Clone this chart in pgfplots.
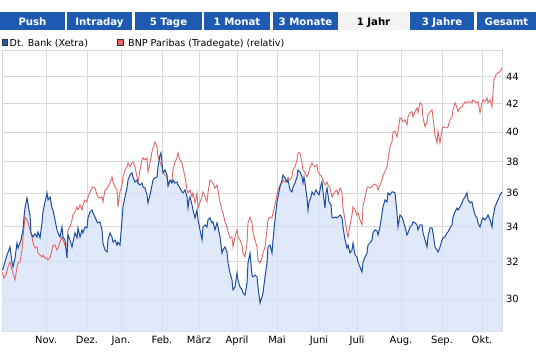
\documentclass[border=0pt]{standalone}
\usepackage{fontspec}
\setmainfont{DejaVu Sans}
\usepackage{pgfplots}
\usepackage{pgfplotstable}
\pgfplotsset{compat=1.18}
\definecolor{tabblue}{RGB}{30,90,178}
\definecolor{tabsel}{RGB}{244,244,244}
\definecolor{gridgray}{RGB}{216,216,216}
\definecolor{dbblue}{RGB}{30,78,158}
\definecolor{bnpred}{RGB}{224,104,104}
\definecolor{fillblue}{RGB}{216,228,248}
\definecolor{sqblue}{RGB}{40,85,165}
\definecolor{sqred}{RGB}{240,100,100}

\pgfplotstableread{
x y
2 31.55
3 31.60
7 32.37
10 32.82
12 31.98
13 31.71
15 32.20
17 33.05
18 32.76
21 33.22
23 33.80
24 34.56
25 35.10
27 35.71
29 34.98
30 34.68
31 33.63
33 33.39
35 33.57
37 33.39
38 33.68
40 33.34
42 34.21
43 34.86
45 35.47
47 36.03
48 35.59
50 35.78
52 35.10
53 34.98
55 34.39
57 33.80
58 33.63
60 33.39
62 33.97
63 33.39
65 33.22
67 32.20
68 33.51
70 33.22
72 32.82
73 33.10
75 33.63
77 33.34
78 33.92
80 33.39
82 33.80
83 33.63
85 33.97
87 33.92
88 34.51
90 34.86
92 34.98
93 34.80
95 34.56
97 34.27
98 34.21
100 34.27
102 33.80
103 33.05
105 32.65
107 32.54
108 33.22
110 33.63
112 33.39
113 33.10
115 33.22
117 32.93
118 33.10
120 32.93
122 34.39
123 35.17
125 35.78
127 36.33
128 36.84
130 37.16
132 37.29
133 37.03
135 36.71
137 36.84
138 36.65
140 36.52
142 36.65
143 36.40
145 36.33
147 35.90
148 35.41
150 35.90
152 36.52
153 36.84
155 36.97
157 37.03
158 37.68
160 38.46
161 38.60
162 37.94
163 37.29
165 37.48
167 37.16
168 36.52
170 36.84
172 36.65
173 36.84
175 36.65
177 36.71
178 36.52
180 36.33
182 36.09
183 36.03
185 36.21
187 35.78
188 35.10
189 35.59
190 35.78
192 35.29
193 34.98
195 34.51
197 34.98
198 34.39
200 33.80
202 33.22
203 33.97
205 34.09
207 33.97
208 34.39
210 34.51
212 34.21
213 34.27
215 33.80
217 34.21
218 33.97
220 33.39
222 32.48
223 32.65
225 32.82
227 32.54
228 31.93
230 31.38
232 31.01
233 30.48
235 30.64
237 31.38
238 31.01
240 30.64
242 30.48
243 30.32
245 30.21
247 30.85
248 31.93
250 32.48
252 31.27
253 31.17
255 31.27
257 31.17
258 30.64
260 29.80
262 30.11
263 30.32
265 31.17
267 31.93
268 32.82
270 32.93
272 32.48
273 33.22
275 34.39
277 35.47
278 35.78
280 36.40
282 36.84
283 37.16
285 36.97
287 36.71
288 36.84
290 36.21
292 36.09
293 36.40
295 36.65
297 37.03
298 37.48
300 37.35
302 37.03
303 36.65
304 37.03
305 36.65
307 35.71
308 34.98
309 35.47
311 35.78
312 36.09
314 35.90
316 36.21
317 36.09
319 35.90
321 36.52
322 36.71
323 36.09
325 35.10
326 36.03
327 36.33
329 35.47
331 35.29
332 34.51
333 34.51
335 34.56
337 34.51
338 34.56
340 34.68
342 34.51
343 33.97
345 33.22
347 32.76
348 32.93
350 32.48
352 32.65
353 33.05
355 32.37
357 32.26
358 31.98
360 31.71
362 31.44
363 31.98
365 32.26
367 32.48
368 32.93
370 33.05
372 33.22
373 33.63
375 33.80
377 33.74
378 33.51
380 33.97
382 34.80
383 35.17
385 35.59
387 35.47
388 36.03
390 35.90
392 36.09
393 36.09
395 36.03
397 34.80
398 33.97
400 34.68
402 34.56
403 34.39
405 33.97
407 33.51
408 33.63
410 33.97
412 34.09
413 34.27
415 34.21
417 34.09
418 33.80
420 34.09
422 34.09
423 33.63
425 33.22
427 32.82
428 33.39
430 33.92
432 33.92
433 33.63
435 32.82
437 32.65
438 32.54
440 32.82
442 33.22
443 33.34
445 33.39
447 33.63
448 33.68
450 33.92
452 34.09
453 34.56
455 34.86
457 35.10
458 34.98
460 35.17
462 35.41
463 35.59
465 35.78
467 36.03
468 35.59
470 35.41
472 35.47
473 35.17
475 34.68
477 34.51
478 34.21
480 33.97
482 34.39
483 34.51
485 34.39
487 34.56
488 34.68
490 34.39
492 33.97
493 34.56
495 35.17
497 35.47
498 35.59
500 35.90
502 36.09
}\dbtable

\pgfplotstableread{
x y
2 31.44
4 31.11
6 31.27
8 31.71
10 31.98
12 31.55
13 31.38
15 31.01
17 31.71
18 31.93
20 31.98
22 32.65
23 33.39
25 34.56
27 34.39
28 34.21
30 33.80
32 33.39
33 33.05
35 32.76
37 32.82
38 32.48
40 32.37
42 32.26
43 32.37
45 32.20
47 32.20
48 32.09
50 32.20
52 32.65
53 32.93
55 32.93
57 32.65
58 32.76
60 33.10
62 33.39
63 33.22
65 32.93
67 32.93
68 33.80
70 33.97
72 34.39
73 34.68
75 34.86
77 35.17
78 34.98
80 35.29
82 34.98
83 35.29
85 35.59
87 35.47
88 35.78
90 36.09
92 36.33
93 36.40
95 36.33
97 35.90
98 35.78
100 35.71
102 35.78
103 35.47
105 36.21
107 36.27
108 36.40
110 36.65
112 37.03
113 36.71
115 36.40
117 36.21
118 35.17
120 36.09
122 36.52
123 37.03
125 37.48
127 37.68
128 37.94
130 37.68
132 37.94
133 38.00
135 37.68
137 37.03
138 36.65
140 37.48
142 38.13
143 38.27
145 38.13
147 38.27
148 37.35
150 37.94
152 38.67
153 38.93
155 39.33
157 39.00
158 38.33
160 38.00
162 37.68
163 37.35
165 37.16
167 37.03
168 36.40
170 36.71
172 36.84
173 37.48
175 38.00
177 38.27
178 38.60
180 38.13
182 37.94
183 37.61
185 37.03
187 36.21
188 36.03
190 36.21
192 35.78
193 36.03
195 35.41
197 36.03
198 35.10
200 35.47
202 35.78
203 36.09
205 35.78
207 35.47
208 36.03
210 36.84
212 36.71
213 36.65
215 36.33
217 36.52
218 36.21
220 35.41
222 34.98
223 34.80
225 34.27
227 33.97
228 33.68
230 33.34
232 33.39
233 32.82
235 33.39
237 33.80
238 33.39
240 33.22
242 32.93
243 32.48
245 32.26
247 33.05
248 34.21
250 34.56
252 34.21
253 33.63
255 33.22
257 32.82
258 32.09
260 31.93
262 32.20
263 32.48
265 32.82
267 33.80
268 34.39
270 34.56
272 34.51
273 34.80
275 35.29
277 35.90
278 36.21
280 36.52
282 36.65
283 36.84
285 36.71
287 36.84
288 36.97
290 36.84
292 37.03
293 37.48
295 37.68
297 38.13
298 38.60
300 38.60
302 37.94
303 37.48
305 37.29
307 37.03
308 37.16
310 37.61
312 37.94
313 37.81
315 37.68
317 37.81
318 37.35
320 37.16
322 37.03
323 36.84
325 36.52
327 36.71
328 36.52
330 36.33
332 35.78
333 35.90
335 36.09
337 36.21
338 35.90
340 36.33
342 36.03
343 35.10
345 34.39
347 33.63
348 33.39
350 34.09
352 34.68
353 35.17
355 34.98
357 34.68
358 34.80
360 34.39
362 34.09
363 35.17
365 35.78
367 36.33
368 36.40
370 36.33
372 36.40
373 36.52
375 36.58
377 36.46
378 36.21
380 36.52
382 36.84
383 37.16
385 37.35
387 37.68
388 38.13
390 39.00
392 39.33
393 40.00
395 40.07
397 39.67
398 40.07
400 41.00
402 40.86
403 40.72
405 40.86
407 40.51
408 41.07
410 41.36
412 41.43
413 41.07
415 41.43
417 41.71
418 41.36
420 42.07
422 41.93
423 41.00
425 40.37
427 40.72
428 41.21
430 41.43
432 41.57
433 41.00
435 39.81
437 39.27
438 40.07
440 39.27
442 40.16
443 40.37
445 40.30
447 40.30
448 40.37
450 40.86
452 41.07
453 41.57
455 42.07
457 41.71
458 41.43
460 41.71
462 41.78
463 41.93
465 42.14
467 42.07
468 42.14
470 42.14
472 42.07
473 42.29
475 42.14
477 42.07
478 42.14
480 41.36
482 42.07
483 42.29
485 42.14
487 42.44
488 42.07
490 42.29
492 41.78
493 42.88
494 43.77
496 44.15
498 44.30
500 44.38
502 44.68
}\bnptable

\begin{document}
\begin{tikzpicture}[x=1bp,y=1bp]
\useasboundingbox (0,0) rectangle (536,353);
\fill[white] (0,0) rectangle (536,353);
% tabs
\foreach \a/\b/\t in {0/65/Push, 67/132/Intraday, 135/202/5 Tage, 204/270/1 Monat, 273/338/3 Monate, 410/474/3 Jahre, 477/536/Gesamt} {
  \fill[tabblue] (\a,323) rectangle (\b,341);
  \node[anchor=base, inner sep=0pt, text=white, font=\fontsize{10.2}{12}\selectfont\bfseries] at ({(\a+\b)/2},328) {\t};
}
\fill[tabsel] (338,323) rectangle (409,341);
\node[anchor=base, inner sep=0pt, text=black, font=\fontsize{10.2}{12}\selectfont\bfseries] at (373.5,328) {1 Jahr};
% legend
\filldraw[fill=sqblue, draw=black!80, line width=0.8bp] (2,307.5) rectangle (7.5,313.5);
\node[anchor=base west, inner sep=0pt, font=\fontsize{9.6}{12}\selectfont] at (9.5,307) {Dt. Bank (Xetra)};
\filldraw[fill=sqred, draw=black!80, line width=0.8bp] (117.5,307.5) rectangle (123,313.5);
\node[anchor=base west, inner sep=0pt, font=\fontsize{9.6}{12}\selectfont] at (128,307) {BNP Paribas (Tradegate) (relativ)};

\begin{axis}[
  at={(2bp,21bp)}, anchor=south west,
  scale only axis, width=500.5bp, height=281bp,
  xmin=2, xmax=502.5,
  ymode=log, ymin=28.35, ymax=46.0,
  axis line style={draw=gridgray, line width=1bp},
  grid=major,
  major grid style={draw=gridgray, line width=1bp},
  major tick length=0pt,
  xtick={46,87,121,162,199,237,277,319,357,401,442,482},
  xticklabels={Nov.,Dez.,Jan.,Feb.,März,April,Mai,Juni,Juli,Aug.,Sep.,Okt.},
  ytick={30,32,34,36,38,40,42,44},
  yticklabels={30,32,34,36,38,40,42,44},
  yticklabel pos=right,
  /pgf/number format/assume math mode=true,
  tick label style={font=\fontsize{10}{12}\selectfont, text=black},
  xticklabel style={anchor=base, yshift=-12bp},
  clip=true,
]
\addplot[draw=none, fill=fillblue, fill opacity=0.78] table[x=x,y=y] {\dbtable} \closedcycle;
\addplot[bnpred, line width=0.9bp] table[x=x,y=y] {\bnptable};
\addplot[dbblue, line width=1bp] table[x=x,y=y] {\dbtable};
\end{axis}
\end{tikzpicture}
\end{document}
